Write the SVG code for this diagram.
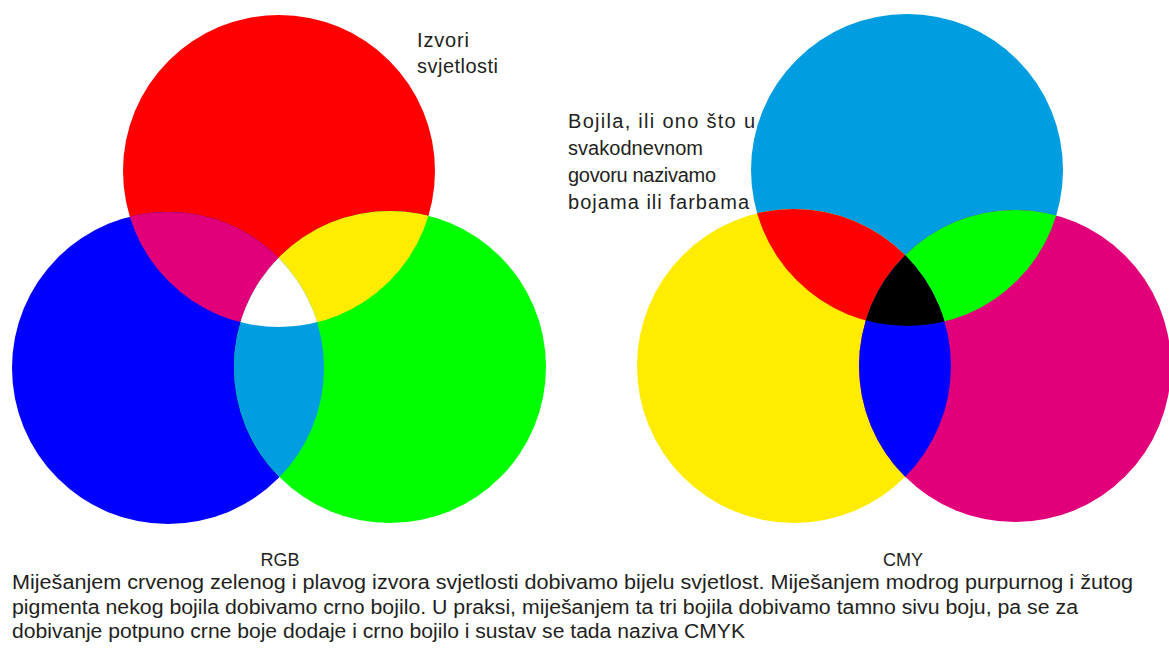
<svg xmlns="http://www.w3.org/2000/svg" width="1169" height="653" viewBox="0 0 1169 653">
<style>
.t{font-family:"Liberation Sans",Arial,sans-serif;fill:#231f20}
.lbl{font-size:20px}
.par{font-size:19.5px}
.cap{font-size:18px;text-anchor:middle}
.red{fill:#ff0000}.grn{fill:#00ff00}.blu{fill:#0000ff}
.cya{fill:#009ee0}.mag{fill:#e2007a}.yel{fill:#ffec00}
.wht{fill:#ffffff}.blk{fill:#000000}
</style>
<defs>
<clipPath id="cR"><circle cx="279" cy="171" r="156"/></clipPath>
<clipPath id="cB"><circle cx="168" cy="368" r="156"/></clipPath>
<clipPath id="cG"><circle cx="390" cy="367" r="156"/></clipPath>
<clipPath id="cC"><circle cx="907" cy="170" r="156"/></clipPath>
<clipPath id="cY"><circle cx="794" cy="366" r="157"/></clipPath>
<clipPath id="cM"><circle cx="1015" cy="366" r="156"/></clipPath>
</defs>
<rect width="1169" height="653" fill="#ffffff"/>

<g id="rgb">
  <g id="circle-red"><circle class="red" cx="279" cy="171" r="156"/></g>
  <g id="circle-blue"><circle class="blu" cx="168" cy="368" r="156"/></g>
  <g id="circle-green"><circle class="grn" cx="390" cy="367" r="156"/></g>
  <g id="overlap-red-blue"><circle class="mag" cx="168" cy="368" r="156" clip-path="url(#cR)"/></g>
  <g id="overlap-red-green"><circle class="yel" cx="390" cy="367" r="156" clip-path="url(#cR)"/></g>
  <g id="overlap-blue-green"><circle class="cya" cx="390" cy="367" r="156" clip-path="url(#cB)"/></g>
  <g id="overlap-rgb" clip-path="url(#cR)"><circle class="wht" cx="390" cy="367" r="156" clip-path="url(#cB)"/></g>
</g>

<g id="cmy">
  <g id="circle-cyan"><circle class="cya" cx="907" cy="170" r="156"/></g>
  <g id="circle-yellow"><circle class="yel" cx="794" cy="366" r="157"/></g>
  <g id="circle-magenta"><circle class="mag" cx="1015" cy="366" r="156"/></g>
  <g id="overlap-cyan-yellow"><circle class="red" cx="794" cy="366" r="157" clip-path="url(#cC)"/></g>
  <g id="overlap-cyan-magenta"><circle class="grn" cx="1015" cy="366" r="156" clip-path="url(#cC)"/></g>
  <g id="overlap-yellow-magenta"><circle class="blu" cx="1015" cy="366" r="156" clip-path="url(#cY)"/></g>
  <g id="overlap-cmy" clip-path="url(#cC)"><circle class="blk" cx="1015" cy="366" r="156" clip-path="url(#cY)"/></g>
</g>

<g id="label-izvori">
  <text class="t lbl" x="417" y="47" textLength="52">Izvori</text>
  <text class="t lbl" x="417" y="73" textLength="81">svjetlosti</text>
</g>

<g id="label-bojila">
  <text class="t lbl" x="568" y="128" textLength="187">Bojila, ili ono što u</text>
  <text class="t lbl" x="568" y="155" textLength="135">svakodnevnom</text>
  <text class="t lbl" x="568" y="182" textLength="148">govoru nazivamo</text>
  <text class="t lbl" x="568" y="209" textLength="181">bojama ili farbama</text>
</g>

<g id="caption-rgb"><text class="t cap" x="280" y="566">RGB</text></g>
<g id="caption-cmy"><text class="t cap" x="903" y="566">CMY</text></g>

<g id="paragraph">
  <text class="t par" x="12" y="589" textLength="1121" lengthAdjust="spacingAndGlyphs">Miješanjem crvenog zelenog i plavog izvora svjetlosti dobivamo bijelu svjetlost. Miješanjem modrog purpurnog i žutog</text>
  <text class="t par" x="12" y="614" textLength="1066" lengthAdjust="spacingAndGlyphs">pigmenta nekog bojila dobivamo crno bojilo. U praksi, miješanjem ta tri bojila dobivamo tamno sivu boju, pa se za</text>
  <text class="t par" x="12" y="638" textLength="733" lengthAdjust="spacingAndGlyphs">dobivanje potpuno crne boje dodaje i crno bojilo i sustav se tada naziva CMYK</text>
</g>
</svg>
